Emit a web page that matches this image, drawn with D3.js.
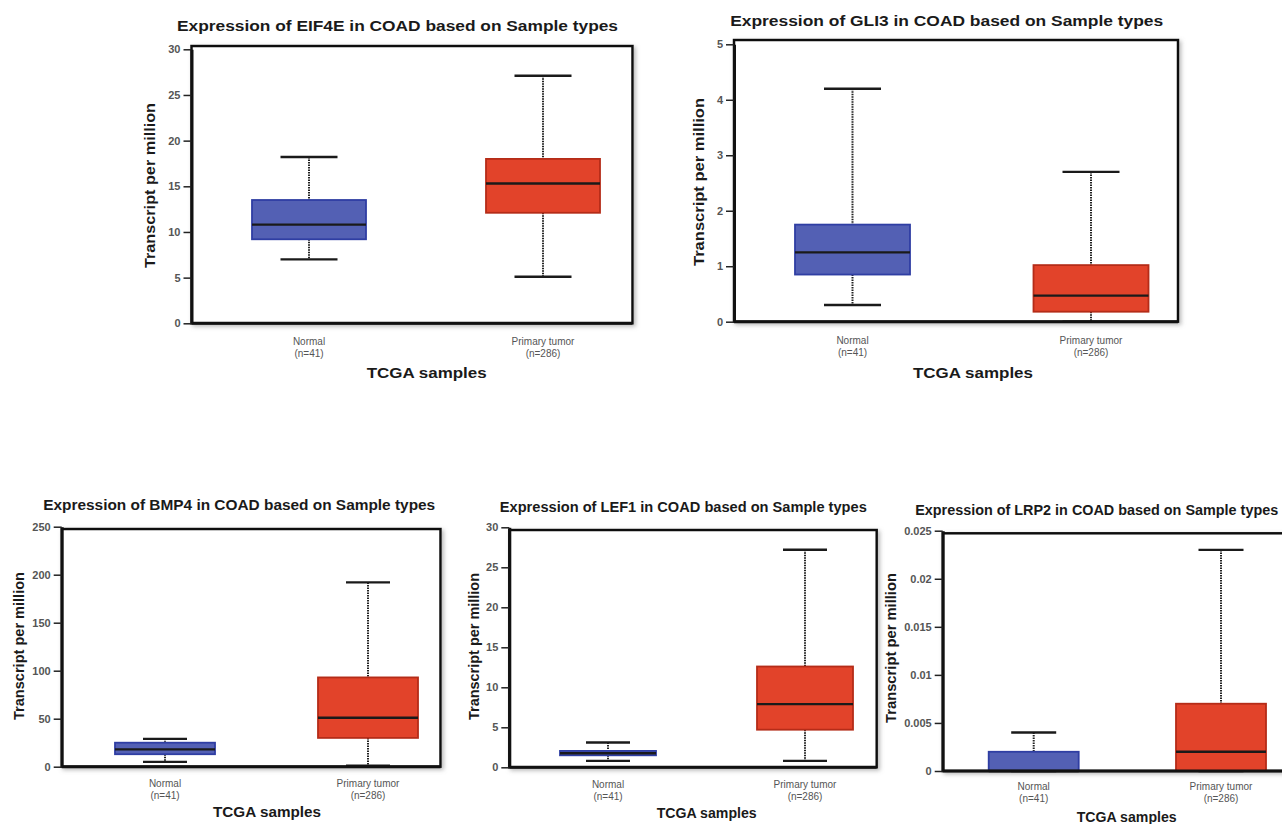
<!DOCTYPE html>
<html>
<head>
<meta charset="utf-8">
<script src="https://cdn.jsdelivr.net/npm/d3@7"></script>
<style>
  body { margin: 0; background: #fff; overflow: hidden; }
  svg { display: block; }
  text { font-family: "Liberation Sans", Arial, sans-serif; }
</style>
</head>
<body>
<svg id="chart" width="1282" height="824"></svg>
<script>
// sample groups on the x axis
const sampleGroups = ["Normal", "Primary tumor"];
const sampleCounts = ["(n=41)", "(n=286)"];
const genes = ["EIF4E", "GLI3", "BMP4", "LEF1", "LRP2"];

// box stats: [lower whisker, Q1, median, Q3, upper whisker]
const eif4eNormal = [7.0, 9.2, 10.8, 13.5, 18.2];
const eif4eTumor  = [5.1, 12.1, 15.3, 18.0, 27.1];
const gli3Normal  = [0.3, 0.85, 1.25, 1.75, 4.2];
const gli3Tumor   = [0, 0.18, 0.47, 1.02, 2.7];
const bmp4Normal  = [5, 13, 18, 25, 29];
const bmp4Tumor   = [1, 30, 51, 93, 192];
const lef1Normal  = [0.8, 1.5, 1.75, 2.05, 3.1];
const lef1Tumor   = [0.8, 4.7, 7.9, 12.6, 27.2];
const lrp2Normal  = [0, 0, 0, 0.002, 0.004];
const lrp2Tumor   = [0, 0, 0.002, 0.007, 0.023];

// y tick labels per panel
const eif4eTicks = [0, 5, 10, 15, 20, 25, 30];
const gli3Ticks  = [0, 1, 2, 3, 4, 5];
const bmp4Ticks  = [0, 50, 100, 150, 200, 250];
const lef1Ticks  = [0, 5, 10, 15, 20, 25, 30];
const lrp2Ticks  = [0, 0.005, 0.01, 0.015, 0.02, 0.025];

const panelStats = [[eif4eNormal, eif4eTumor], [gli3Normal, gli3Tumor], [bmp4Normal, bmp4Tumor],
                    [lef1Normal, lef1Tumor], [lrp2Normal, lrp2Tumor]];
const panelTicks = [eif4eTicks, gli3Ticks, bmp4Ticks, lef1Ticks, lrp2Ticks];

// layout (pixels) for each panel
var layout = [
  { left: 191.5, top: 46, right: 632.5, zero: 323.3, topTick: 49.3, c0: 309, c1: 543, boxW: 114, capW: 57,
    titleX: 397.5, titleY: 30.5, titleW: 441, yLabX: 150, yLabY: 185.5, yLabW: 165,
    catY: 345, xLabX: 426.7, xLabY: 378, xLabW: 120 },
  { left: 734, top: 40, right: 1178, zero: 321.7, topTick: 44.3, c0: 852.5, c1: 1091, boxW: 115, capW: 57,
    titleX: 946.7, titleY: 26, titleW: 433, yLabX: 699, yLabY: 182, yLabW: 168,
    catY: 344, xLabX: 973, xLabY: 378, xLabW: 120 },
  { left: 61.7, top: 529, right: 440.5, zero: 766.7, topTick: 526.7, c0: 165, c1: 368, boxW: 100, capW: 44,
    titleX: 239.2, titleY: 510, titleW: 392, yLabX: 19, yLabY: 646, yLabW: 148,
    catY: 786.5, xLabX: 267, xLabY: 817, xLabW: 108 },
  { left: 509.3, top: 530, right: 876.7, zero: 767.3, topTick: 527.3, c0: 608, c1: 805, boxW: 96, capW: 44,
    titleX: 683.3, titleY: 512, titleW: 367, yLabX: 474, yLabY: 646.5, yLabW: 147,
    catY: 787.5, xLabX: 706.7, xLabY: 818, xLabW: 100 },
  { left: 942.7, top: 533.3, right: 1300, zero: 771, topTick: 530.7, c0: 1033.7, c1: 1221, boxW: 90, capW: 45,
    titleX: 1096.7, titleY: 515, titleW: 363, yLabX: 891, yLabY: 648, yLabW: 150,
    catY: 790, xLabX: 1126.7, xLabY: 822, xLabW: 100 }
];

var boxFill = ["#5360b4", "#e2432a"];
var boxEdge = ["#2f3ea3", "#b52c18"];

var svg = d3.select("#chart");

var defs = svg.append("defs");
defs.append("filter").attr("id", "shadow")
  .attr("x", "-5%").attr("y", "-5%").attr("width", "110%").attr("height", "110%")
  .append("feDropShadow")
  .attr("dx", 2).attr("dy", 2).attr("stdDeviation", 2)
  .attr("flood-color", "#888").attr("flood-opacity", 0.6);

layout.forEach(function(L, p) {
  var g = svg.append("g");
  var stats = panelStats[p];
  var ticks = panelTicks[p];

  var y = d3.scaleLinear()
    .domain([0, d3.max(ticks)])
    .range([L.zero, L.topTick]);
  var x = d3.scalePoint()
    .domain(sampleGroups)
    .range([L.c0, L.c1]);

  // frame
  g.append("rect")
    .attr("x", L.left).attr("y", L.top)
    .attr("width", L.right - L.left).attr("height", L.zero - L.top)
    .attr("fill", "#fff")
    .attr("stroke", "#111").attr("stroke-width", 2.5)
    .attr("filter", "url(#shadow)");

  // boxes
  sampleGroups.forEach(function(grp, i) {
    var s = stats[i];
    var cx = x(grp);

    g.selectAll(null)
      .data([[s[4], s[3]], [s[1], s[0]]])
      .enter().append("line")
      .attr("x1", cx).attr("x2", cx)
      .attr("y1", d => y(d[0])).attr("y2", d => y(d[1]))
      .attr("stroke", "#222").attr("stroke-width", 2)
      .attr("stroke-dasharray", "1.5,1");

    g.selectAll(null)
      .data([s[0], s[4]])
      .enter().append("line")
      .attr("x1", cx - L.capW / 2).attr("x2", cx + L.capW / 2)
      .attr("y1", d => y(d)).attr("y2", d => y(d))
      .attr("stroke", "#1a1a1a").attr("stroke-width", 2.4);

    g.append("rect")
      .attr("x", cx - L.boxW / 2).attr("y", y(s[3]))
      .attr("width", L.boxW).attr("height", Math.max(0, y(s[1]) - y(s[3])))
      .attr("fill", boxFill[i])
      .attr("stroke", boxEdge[i]).attr("stroke-width", 1.8);

    g.append("line")
      .attr("x1", cx - L.boxW / 2).attr("x2", cx + L.boxW / 2)
      .attr("y1", y(s[2])).attr("y2", y(s[2]))
      .attr("stroke", "#1a1a1a").attr("stroke-width", 2.4);

    // category labels
    g.append("text")
      .attr("x", cx).attr("y", L.catY)
      .attr("text-anchor", "middle")
      .attr("font-size", "10px").attr("fill", "#555")
      .text(grp);
    g.append("text")
      .attr("x", cx).attr("y", L.catY + 12)
      .attr("text-anchor", "middle")
      .attr("font-size", "10px").attr("fill", "#555")
      .text(sampleCounts[i]);
  });

  // bottom baseline and left axis
  g.append("line")
    .attr("x1", L.left).attr("x2", L.right)
    .attr("y1", L.zero).attr("y2", L.zero)
    .attr("stroke", "#111").attr("stroke-width", 3);

  var yAxis = d3.axisLeft(y)
    .tickValues(ticks)
    .tickFormat(d => String(d))
    .tickSize(8)
    .tickPadding(3)
    .tickSizeOuter(0);
  var ax = g.append("g")
    .attr("transform", `translate(${L.left}, 0)`)
    .call(yAxis);
  ax.select(".domain").attr("stroke", "#111").attr("stroke-width", 3);
  ax.selectAll(".tick line").attr("stroke", "#222").attr("stroke-width", 1.5);
  ax.selectAll(".tick text")
    .attr("font-size", "11px").attr("font-weight", "bold").attr("fill", "#555")
    .attr("font-family", "Liberation Sans, Arial, sans-serif");

  // titles
  g.append("text")
    .attr("x", L.titleX).attr("y", L.titleY)
    .attr("text-anchor", "middle")
    .attr("font-size", "14px").attr("font-weight", "bold").attr("fill", "#1a1a1a")
    .attr("textLength", L.titleW).attr("lengthAdjust", "spacingAndGlyphs")
    .text(`Expression of ${genes[p]} in COAD based on Sample types`);

  g.append("text")
    .attr("transform", `translate(${L.yLabX}, ${L.yLabY}) rotate(-90)`)
    .attr("dy", "0.35em")
    .attr("text-anchor", "middle")
    .attr("font-size", "14px").attr("font-weight", "bold").attr("fill", "#1a1a1a")
    .attr("textLength", L.yLabW).attr("lengthAdjust", "spacingAndGlyphs")
    .text("Transcript per million");

  g.append("text")
    .attr("x", L.xLabX).attr("y", L.xLabY)
    .attr("text-anchor", "middle")
    .attr("font-size", "15px").attr("font-weight", "bold").attr("fill", "#1a1a1a")
    .attr("textLength", L.xLabW).attr("lengthAdjust", "spacingAndGlyphs")
    .text("TCGA samples");
});
</script>
</body>
</html>
